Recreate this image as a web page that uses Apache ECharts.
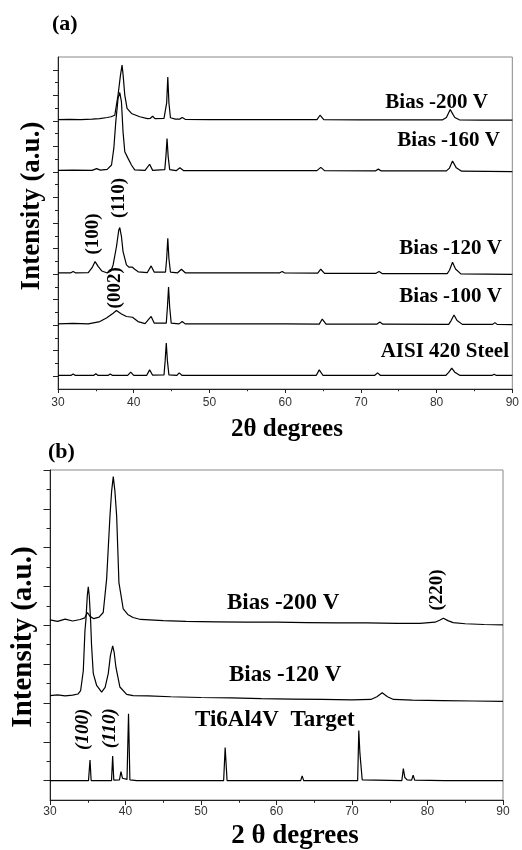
<!DOCTYPE html>
<html><head><meta charset="utf-8">
<script src="https://cdn.jsdelivr.net/npm/echarts@6/dist/echarts.min.js"></script>
<style>html,body{margin:0;padding:0;background:#fff}#c{width:522px;height:850px}</style>
</head><body><div id="c"></div>
<script>
// ---- tick labels / tick positions (arbitrary intensity units) ----
const xTickLabels = [30, 40, 50, 60, 70, 80, 90];
const topMajorTicks = [5, 15, 25, 35, 45, 55, 65, 75, 85, 95, 105, 115, 125];
const topMinorTicks = [10, 20, 30, 40, 50, 60, 70, 80, 90, 100, 110, 120];
const botMajorTicks = [5, 15, 25, 35, 45, 55, 65, 75, 85];
const botMinorTicks = [10, 20, 30, 40, 50, 60, 70, 80];

// ---- panel (a): [2theta, intensity a.u. incl. stacking offset] ----
const topBias200 = [[30,105.5],[31.5,105.6],[33,105.5],[34.5,105.7],[35.5,105.9],[36.5,106.3],[37.0,106.6],[37.5,107.2],[37.93,115.1],[38.25,122.9],[38.46,126.8],[38.6,122.9],[38.82,115.1],[39.12,109.9],[39.7,107.9],[40.8,106.6],[41.8,105.9],[42.2,106.0],[42.5,106.8],[42.8,105.9],[44.0,106.0],[44.2,106.4],[44.35,112.0],[44.5,122.2],[44.65,112.0],[44.85,106.2],[45.5,105.7],[46.1,105.7],[46.4,106.3],[46.8,105.6],[50,105.5],[55,105.5],[60,105.5],[64.2,105.5],[64.6,107.2],[65.1,105.5],[70,105.4],[75,105.4],[80.8,105.4],[81.3,106.3],[81.8,109.4],[82.4,106.3],[83,105.4],[86,105.3],[90,105.3]];
const topBias160 = [[30,85.6],[32,85.7],[34.5,85.6],[35.1,86.3],[35.6,85.7],[36.5,86.0],[37.07,87.7],[37.37,94.2],[37.63,104.6],[37.93,113.8],[38.16,116.1],[38.38,112.4],[38.59,100.7],[38.82,92.9],[39.25,90.3],[39.7,87.7],[40.13,85.8],[41.5,85.6],[42.1,88.0],[42.5,85.6],[44.1,85.9],[44.25,91.0],[44.4,98.1],[44.55,91.0],[44.75,85.9],[45.6,85.5],[46.1,86.6],[46.6,85.5],[55,85.5],[64.2,85.5],[64.7,86.8],[65.2,85.5],[71.9,85.4],[72.3,86.1],[72.7,85.4],[81.3,85.4],[81.7,86.5],[82.1,89.3],[82.6,86.6],[83.3,85.3],[90,85.1]];
const topBias120 = [[30,45.5],[31.7,45.5],[32.0,46.0],[32.3,45.5],[34.0,45.6],[34.5,47.5],[34.9,49.9],[35.3,48.0],[35.8,46.2],[36.5,45.4],[37.0,46.2],[37.28,48.6],[37.72,55.7],[38.03,62.3],[38.16,63.2],[38.38,59.7],[38.59,53.8],[39.04,48.6],[39.38,47.7],[39.83,47.7],[40.13,46.9],[40.6,45.9],[41.8,45.6],[42.3,48.2],[42.7,45.8],[44.2,45.8],[44.35,51.0],[44.5,59.0],[44.65,51.0],[44.85,45.8],[45.8,45.5],[46.3,46.9],[46.8,45.5],[59.3,45.5],[59.6,46.0],[59.9,45.5],[64.3,45.4],[64.7,46.9],[65.2,45.3],[72.0,45.3],[72.4,46.0],[72.8,45.2],[81.4,45.2],[81.7,46.5],[82.1,49.6],[82.5,47.0],[83.2,45.1],[90,44.9]];
const topBias100 = [[30,25.5],[32,25.7],[34,25.5],[35.53,26.4],[36.4,27.8],[37.28,29.7],[37.72,30.7],[38.38,29.4],[39.04,28.4],[39.83,28.1],[40.57,26.4],[41.5,25.6],[42.3,28.4],[42.7,25.8],[44.3,25.8],[44.45,32.0],[44.6,39.9],[44.75,32.0],[44.95,25.8],[46.0,25.5],[46.4,26.4],[46.8,25.5],[59.5,25.5],[59.7,26.0],[60,25.5],[64.5,25.4],[64.9,27.4],[65.4,25.4],[72.1,25.4],[72.5,26.2],[72.9,25.4],[81.6,25.3],[81.9,26.7],[82.3,29.0],[82.7,26.8],[83.4,25.3],[87.4,25.3],[87.7,26.0],[88.0,25.3],[90,25.2]];
const topSteel = [[30,5.3],[31.7,5.3],[32.0,5.9],[32.3,5.3],[34.7,5.3],[35.0,6.0],[35.3,5.3],[36.6,5.3],[36.9,5.9],[37.2,5.3],[39.2,5.3],[39.6,6.6],[40.0,5.3],[41.7,5.3],[42.1,7.5],[42.5,5.4],[44.0,5.5],[44.15,11.0],[44.3,18.0],[44.45,11.0],[44.65,5.5],[45.7,5.3],[46.0,6.3],[46.4,5.3],[55,5.3],[64.1,5.3],[64.5,7.5],[65.0,5.3],[71.8,5.3],[72.2,6.3],[72.6,5.3],[81.2,5.3],[81.6,6.5],[82.0,8.2],[82.4,6.6],[83.1,5.3],[87.3,5.3],[87.6,5.8],[87.9,5.3],[90,5.3]];

// ---- panel (b) ----
const botBias200 = [[30,46.4],[31,46.0],[32,46.6],[33,46.1],[34,46.5],[34.6,46.9],[34.95,48.3],[35.3,47.3],[35.8,46.7],[36.5,47.1],[37.05,48.3],[37.5,56.9],[37.94,73.1],[38.16,79.5],[38.38,83.3],[38.6,79.5],[38.83,73.1],[39.13,56.0],[39.7,49.2],[40.3,47.8],[41.0,47.0],[42,46.5],[43.2,46.4],[45,46.2],[48,46.0],[52,45.9],[56,45.8],[60,45.8],[64,45.7],[68,45.6],[72,45.6],[76,45.5],[79,45.5],[81,45.8],[81.6,46.3],[82.1,46.8],[82.7,46.2],[83.4,45.7],[85,45.4],[87.5,45.2],[90,45.1]];
const botBias120 = [[30,26.9],[31,27.1],[32,26.8],[33,27.0],[33.7,27.3],[34.06,28.2],[34.41,33.3],[34.63,43.6],[34.76,46.5],[34.94,52.6],[35.07,54.9],[35.2,52.6],[35.39,45.7],[35.5,40.0],[35.73,32.6],[36.18,29.5],[36.84,27.8],[37.3,29.0],[37.72,32.6],[38.0,37.2],[38.3,39.7],[38.5,38.0],[38.73,34.2],[39.26,29.1],[40.15,27.2],[41,26.9],[43,26.8],[46,26.6],[50,26.4],[54,26.3],[58,26.1],[62,26.0],[66,25.9],[70,25.8],[72.5,25.9],[73.3,26.6],[74.0,27.6],[74.7,26.6],[75.5,25.9],[78,25.7],[82,25.6],[86,25.5],[90,25.4]];
const botTarget = [[30,5.0],[35.1,5.0],[35.3,10.3],[35.45,5.0],[38.15,5.0],[38.3,11.3],[38.45,5.1],[39.2,5.2],[39.4,7.3],[39.6,5.6],[40.2,5.3],[40.4,22.2],[40.58,5.2],[41.5,5.0],[53.0,5.0],[53.2,13.5],[53.35,8.5],[53.45,5.0],[63.2,5.0],[63.4,6.2],[63.6,5.0],[70.75,5.0],[70.9,17.9],[71.05,12.0],[71.15,12.4],[71.35,5.2],[76.6,5.0],[76.8,8.1],[77.0,5.8],[77.3,5.2],[77.9,5.1],[78.1,6.4],[78.3,5.1],[82.3,5.0],[82.5,5.5],[82.7,5.0],[87.3,5.0],[87.5,5.4],[87.7,5.0],[90,5.0]];

// ---- peak annotations [2theta, intensity, text] ----
const topPeakLabels = [[34.63,60.7,'(100)'],[38.05,74.8,'(110)'],[37.48,39.6,'(002)']];
const botPeakLabels = [[81.26,54.1,'(220)']];
const botPeakLabelsItalic = [[34.33,18.2,'(100)'],[37.94,18.5,'(110)']];

const SERIF = '"Liberation Serif","Times New Roman",serif';
const SANS = '"Liberation Sans",Arial,sans-serif';

function xAx(grid, margin, tickLen) {
  return {
    gridIndex: grid, type: 'value', min: 30, max: 90, interval: 10,
    axisLine: {show: true, lineStyle: {color: '#222', width: 1}},
    axisTick: {show: true, length: tickLen, lineStyle: {color: '#222'}},
    minorTick: {show: true, splitNumber: 2, length: tickLen * 0.55, lineStyle: {color: '#222'}},
    axisLabel: {fontFamily: SANS, fontSize: 12, color: '#333', margin: margin,
      formatter: v => (xTickLabels.indexOf(v) >= 0 ? String(v) : '')},
    splitLine: {show: false}, minorSplitLine: {show: false}
  };
}
function yAx(grid, max, ticks, len, showLine) {
  return {
    gridIndex: grid, type: 'value', min: 0, max: max, position: 'left',
    axisLine: {show: showLine, lineStyle: {color: '#222', width: 1}},
    axisTick: {show: true, length: len, customValues: ticks, lineStyle: {color: '#222'}},
    axisLabel: {show: false}, splitLine: {show: false}
  };
}
function lineSeries(data, xi, yi) {
  return {type: 'line', xAxisIndex: xi, yAxisIndex: yi, data: data, showSymbol: false,
    symbol: 'none', lineStyle: {color: '#000', width: 1.2}, silent: true, z: 3};
}
function labelSeries(data, xi, yi, size, italic) {
  return {type: 'scatter', xAxisIndex: xi, yAxisIndex: yi, data: data, symbolSize: 2,
    itemStyle: {color: 'rgba(255,255,255,0)'}, silent: true, z: 5,
    labelLayout: {hideOverlap: false},
    label: {show: true, position: 'inside', rotate: 90, formatter: p => p.data[2],
      fontFamily: SERIF, fontWeight: 'bold', fontStyle: italic ? 'italic' : 'normal',
      fontSize: size, color: '#000', opacity: 1}};
}
function txt(x, y, s, size, align, rot) {
  return {type: 'text', x: x, y: y, rotation: rot || 0, z: 10,
    style: {text: s, x: 0, y: 0, fill: '#000',
      font: 'bold ' + size + 'px ' + SERIF,
      align: align, verticalAlign: 'middle', textAlign: align, textVerticalAlign: 'middle'}};
}

const chart = echarts.init(document.getElementById('c'), null, {renderer: 'canvas'});
chart.setOption({
  animation: false,
  backgroundColor: '#fff',
  grid: [
    {left: 58, top: 57, right: 7, height: 332, show: true, borderColor: '#888', borderWidth: 1, backgroundColor: 'transparent'},
    {left: 50, top: 470, right: 19, height: 330, show: true, borderColor: '#888', borderWidth: 1, backgroundColor: 'transparent'}
  ],
  xAxis: [xAx(0, 8, 4), xAx(1, 6, 5)],
  yAxis: [
    yAx(0, 130, topMajorTicks, 5, true),
    yAx(0, 130, topMinorTicks, 3, false),
    yAx(1, 85, botMajorTicks, 6.5, true),
    yAx(1, 85, botMinorTicks, 3.5, false)
  ],
  series: [
    lineSeries(topBias200, 0, 0),
    lineSeries(topBias160, 0, 0),
    lineSeries(topBias120, 0, 0),
    lineSeries(topBias100, 0, 0),
    lineSeries(topSteel, 0, 0),
    lineSeries(botBias200, 1, 2),
    lineSeries(botBias120, 1, 2),
    lineSeries(botTarget, 1, 2),
    labelSeries(topPeakLabels, 0, 0, 19, false),
    labelSeries(botPeakLabels, 1, 2, 19, false),
    labelSeries(botPeakLabelsItalic, 1, 2, 19, true)
  ],
  graphic: [
    txt(52, 24, '(a)', 22, 'left'),
    txt(48, 452, '(b)', 22, 'left'),
    txt(488, 103, 'Bias -200 V', 21, 'right'),
    txt(500, 141, 'Bias -160 V', 21, 'right'),
    txt(502, 249, 'Bias -120 V', 21, 'right'),
    txt(502, 297, 'Bias -100 V', 21, 'right'),
    txt(509, 352, 'AISI 420 Steel', 21, 'right'),
    txt(227, 603, 'Bias -200 V', 23, 'left'),
    txt(229, 675, 'Bias -120 V', 23, 'left'),
    txt(195, 720, 'Ti6Al4V  Target', 23, 'left'),
    txt(287, 430, '2θ degrees', 25, 'center'),
    txt(295, 836, '2 θ degrees', 27, 'center'),
    txt(32, 206, 'Intensity (a.u.)', 27, 'center', Math.PI / 2),
    txt(24, 637, 'Intensity (a.u.)', 29, 'center', Math.PI / 2)
  ]
});
</script>
</body></html>
